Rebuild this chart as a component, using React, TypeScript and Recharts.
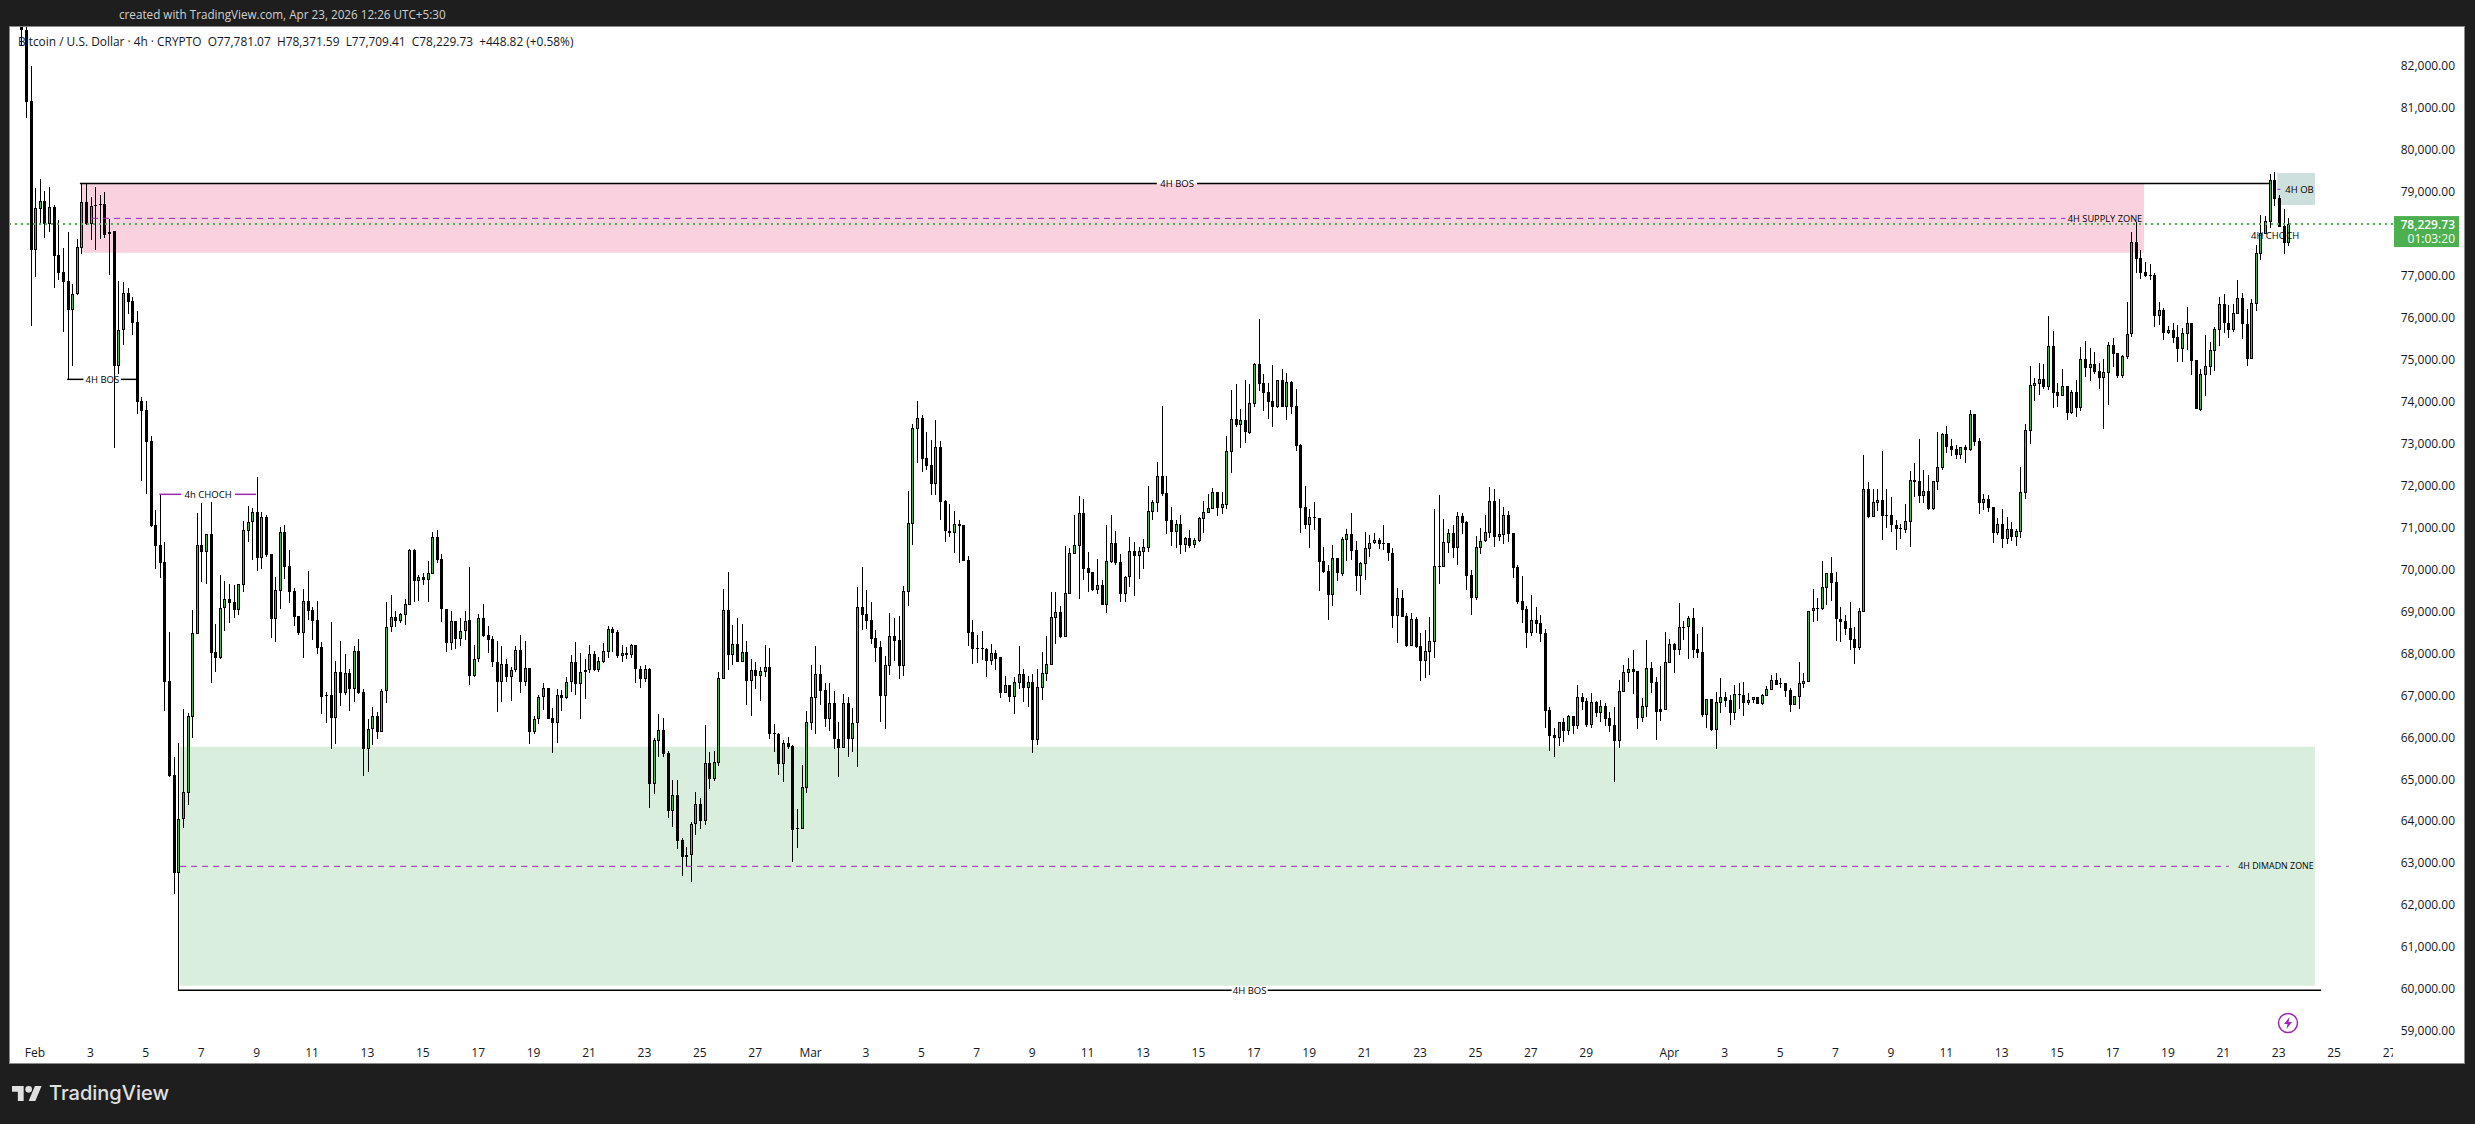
import React from 'react';
import { Bar, ComposedChart, ReferenceArea, ReferenceDot, ReferenceLine, XAxis, YAxis } from 'recharts';

// [open, high, low, close], one row per 4h candle
const febCandles = [
  [83300,83500,82467,82864],[82864,83400,80766,81148],[81164,81990,75792,77619],[77619,79082,76968,78605],
  [78597,79296,78223,78780],[78780,79018,77905,78239],[78239,79113,78049,78629],[78637,78676,76713,77476],
  [77484,78319,76888,77063],[77087,77659,75657,76849],[76864,78041,74528,76189],[76189,76809,74854,76555],
  [76555,77874,76531,77683],[77667,79209,77524,78748],[78748,79193,78200,78239],[78239,78875,77858,78652],
  [78676,79113,77604,78660],[78700,78915,77882,78690],[78700,78994,77905,77969],[77985,78358,77007,78048],
  [78064,78064,72899,74854],[74854,76872,74663,75696],[75696,76848,75354,76586],[76586,76706,76094,76380],
  [76388,76491,75577,75879],[75895,76157,73710,73996],[74012,74100,72113,73782],[73798,74012,71795,73043],
  [73059,73178,71016,71032],[71056,71414,70007,70563],[70579,71787,69800,70158],[70174,70643,66622,67321],
  [67337,68497,65056,65072],[65088,65517,62250,62751],[62751,65851,59963,64039],[64039,66661,63840,64683],
  [64675,66566,64381,66502],[66471,69030,65970,68473],[68457,71334,68457,70579],[70579,71573,69697,70420],
  [70420,70834,69649,70834],[70834,71604,67297,68012],[68028,68696,67551,67893],[67893,69856,67853,69069],
  [69069,69721,68537,69284],[69284,69642,68728,69205],[69228,69626,68847,69030],[69030,69649,68911,69649],
  [69634,71151,69459,70937],[70921,71509,70651,71120],[71120,71453,70222,71358],[71358,72193,69959,70277],
  [70277,71358,70007,71247],[71247,71287,70285,70349],[70365,70365,68362,68823],[68823,69808,68267,69506],
  [69491,71000,69061,70881],[70881,71056,69769,70063],[70079,70460,69204,69467],[69483,69546,68648,68871],
  [68887,68887,68433,68473],[68489,69522,67885,69244],[69244,69951,68791,69014],[69030,69093,68314,68775],
  [68791,69244,67981,68131],[68155,68259,66542,66963],[67003,67067,66344,66995],[67003,68736,65724,66463],
  [66463,67814,65835,67543],[67543,68290,66741,67043],[67043,67973,67003,67520],[67520,67615,66630,67154],
  [67154,68179,66844,68052],[68052,68330,67019,67043],[67075,67138,65080,65708],[65708,66423,65175,66185],
  [66185,66709,65811,66502],[66502,66598,65954,66129],[66129,67138,66129,67091],[67091,69220,66820,68616],
  [68616,69387,68513,68871],[68871,69006,68632,68775],[68775,68950,68728,68934],[68918,69284,68672,69173],
  [69157,70476,69157,70460],[70460,70476,69220,69729],[69729,69856,69252,69816],[69816,69920,69634,69753],
  [69753,70198,69220,69912],[69896,70889,69896,70762],[70762,70937,70158,70222],[70238,70365,68751,69046],
  [69046,69046,68036,68235],[68235,69014,68076,68759],[68759,68775,68108,68346],[68346,68831,68171,68521],
  [68521,69006,68314,68775],[68791,70055,67242,67464],[67464,68195,67440,67853],[67853,68934,67798,68831],
  [68831,69173,68394,68410],[68426,68648,68012,68322],[68330,68410,67663,67798],[67798,68290,66598,67321],
  [67321,68171,66836,67734],[67734,67861,67321,67440],[67440,67663,66868,67591],[67591,68171,67559,68068],
  [68068,68433,67059,67321],[67321,68290,67218,67639],[67639,67639,65835,66129],[66129,66502,66073,66423],
  [66423,67003,66312,66948],[66948,67297,66646,67162],[67162,67162,66439,66439],[66447,66685,65628,66344],
  [66344,67138,65867,66995],[66995,67122,66630,66940],[66940,67424,66916,67305],[67305,67957,67082,67782],
  [67782,68267,67003,67257],[67257,67997,66431,67543],[67543,67853,66908,67591],[67591,68187,67520,67973],
  [67973,68060,67575,67599],[67599,67917,67551,67806],[67798,68251,67758,68044],[68036,68648,67893,68569],
  [68569,68616,68036,68489],[68505,68553,67893,67933],[67941,68187,67790,67997],[67997,68155,67869,67965],
  [67965,68219,67893,68187],[68187,68187,67297,67631],[67631,67694,67170,67393],[67393,67718,67313,67615],
  [67615,67639,64309,64881],[64881,65978,64643,65930],[65914,66542,65525,66169],[66169,66455,65525,65596],
  [65612,65668,64079,64245],[64245,64977,63864,64611],[64611,64977,63332,63530],[63538,63602,62688,63149],
  [63181,63387,62910,63149],[63181,63975,62553,63928],[63920,64691,63673,64397],[64397,64540,63816,64007],
  [64007,66288,63904,65374],[65374,65644,64770,65009],[65009,65668,64961,65398],[65390,67543,65310,67401],
  [67393,69530,67393,69030],[69030,69936,67599,67965],[67965,68672,67726,68211],[68211,68839,67798,67798],
  [67798,68696,67798,68020],[68020,68290,66773,67345],[67345,67853,66502,67591],[67591,67798,67146,67464],
  [67464,67679,66860,67568],[67560,68187,67440,67663],[67663,68124,65954,66081],[66097,66312,65644,66089],
  [66073,66105,65096,65366],[65366,65930,64929,65851],[65851,66002,65724,65771],[65787,65811,63030,63793],
  [63825,64293,63355,63817],[63817,65326,63817,64810],[64794,66622,64675,66352],
];

const marCandles = [
  [66344,67718,66169,66948],[66940,68171,66073,67496],[67496,67718,66765,67106],[67122,67297,66248,66439],
  [66439,67281,66153,66804],[66804,67098,65724,65946],[65946,66359,65056,65748],[65748,67027,65748,66804],
  [66804,66955,65533,65962],[65962,66685,65652,66328],[66328,69578,65295,69093],[69093,70055,68553,68918],
  [68926,69506,68577,68775],[68791,69220,68227,68346],[68354,68553,67790,68131],[68139,68290,66367,66987],
  [66987,67933,66200,67710],[67702,68958,67480,68410],[68410,68839,67814,68298],[68306,68887,67393,67702],
  [67702,69602,67464,69475],[69467,71867,69125,71096],[71088,73464,70587,73361],[73353,74012,72542,73599],
  [73599,73679,72328,72638],[72646,73273,72367,72471],[72479,73083,71771,72042],[72042,73559,71771,72908],
  [72908,73059,71183,71612],[71620,71652,70651,70921],[70913,71557,70778,70873],[70873,71390,70396,71072],
  [71072,71175,70158,71040],[71048,71048,70206,70206],[70214,70317,68171,68489],[68497,68791,67750,68108],
  [68116,68433,67774,68108],[68116,68529,67838,68108],[68092,68124,67440,67822],[67822,68219,67710,67997],
  [67997,68076,67599,67853],[67900,67916,66939,67042],[67058,67455,67042,67233],[67233,67233,66835,66963],
  [66963,67423,66549,67304],[67296,68170,67153,67495],[67495,67614,66835,67177],[67177,67455,66724,67304],
  [67304,67495,65627,65929],[65929,67630,65818,67185],[67177,68027,66883,67519],[67511,68409,67344,67733],
  [67725,69458,67725,68862],[68846,69458,68218,68973],[68973,69124,68353,68377],[68385,70555,68385,69426],
  [69418,70515,69418,70380],[70372,71294,70372,70571],[70563,71747,69299,71333],[71333,71675,69744,70014],
  [70022,70412,69458,69911],[69935,69935,69482,69505],[69505,70245,69410,69617],[69617,69744,69148,69148],
  [69148,71055,68965,70189],[70173,71294,70157,70618],[70618,70912,70102,70141],[70165,70356,69219,69418],
  [69418,69839,69219,69823],[69807,70761,69585,70427],[70427,70650,69370,70324],[70324,70523,69768,70427],
  [70419,70722,70006,70523],[70515,71985,70404,71381],[71373,71651,71174,71596],[71588,72549,71365,72215],
  [72215,73884,71747,71794],[71810,72223,70841,71158],[71166,71484,70555,70896],[70896,71174,70507,71071],
  [71071,71294,70364,70586],[70586,70761,70404,70737],[70737,70936,70507,70563],[70586,70737,70515,70690],
  [70682,71238,70650,71222],[71206,71627,70873,71357],[71349,71786,71349,71452],[71445,71937,71445,71834],
  [71834,71834,71278,71468],[71468,71834,71325,71548],[71540,73177,71437,72811],[72803,74274,72295,73574],
  [73574,74417,73400,73447],[73447,73821,72891,73551],[73551,74512,73010,73265],[73257,74417,73225,73956],
  [73948,74910,73868,74894],[74894,75958,74258,74425],[74433,74647,73773,74210],[74218,74433,73590,73996],
  [74004,74862,73400,73876],[73868,74504,73845,74504],[74504,74766,73876,73876],[73876,74671,73558,74457],
  [74465,74488,73709,73876],[73884,74298,72827,72947],[72962,72978,70873,71468],[71476,71985,70960,71063],
  [71063,71429,70515,71238],[71238,71604,70936,71230],[71214,71214,69490,70181],[70189,70523,69903,69935],
  [69951,70094,68790,69394],[69394,70579,69132,70261],[70261,70261,69728,69903],[69895,70777,69839,70713],
  [70705,70960,70205,70833],[70833,71333,70221,70443],[70451,70666,69490,69847],[69847,70165,69386,70141],
  [70133,70888,69744,70499],[70491,70817,70284,70634],[70634,70865,70594,70690],[70690,70737,70491,70610],
  [70618,71055,70459,70610],[70618,70618,70205,70380],[70380,70507,68608,68894],[68894,69545,68234,69307],
  [69307,69505,68870,68870],[68878,68965,68155,68170],[68178,68965,68178,68806],[68806,68854,68131,68155],
  [68170,68488,67344,67821],[67821,68552,67416,68043],[68035,68854,67487,68282],[68274,71437,67884,70070],
  [70070,71770,69649,70062],[70062,71198,70062,70642],[70634,70960,70388,70857],[70857,71055,70268,70515],
  [70515,71365,70102,71270],[71270,71341,70849,71111],[71127,71159,69505,69847],[69855,69982,68917,69323],
  [69323,70793,69267,70523],[70515,70984,70364,70674],[70666,71294,70650,70880],[70873,71961,70745,71619],
  [71619,71913,70531,70777],[70777,71675,70682,70833],[70825,71484,70602,71286],[71286,71389,70650,70849],
  [70857,70857,69791,70038],[70054,70102,69172,69212],[69236,69839,68719,69037],[69045,69124,68123,68488],
  [68488,69386,68409,68782],[68782,69100,68472,68703],[68711,68909,68266,68464],[68472,68576,66215,66629],
  [66645,66716,65675,66025],[66049,66215,65532,65985],[65985,66350,65794,66350],[66350,66454,65882,66152],
  [66152,66525,66049,66502],[66502,66502,66081,66271],[66271,67241,66192,66955],[66955,67050,66645,66843],
  [66859,66939,66239,66287],[66287,67050,66215,66835],[66835,66859,66470,66581],[66581,66883,66359,66740],
  [66740,66811,66263,66430],[66446,66597,66120,66271],[66287,66716,64928,65913],[65913,67360,65746,67090],
  [67082,67718,67082,67543],[67535,67884,67320,67614],[67614,68075,67034,67558],[67566,67566,66192,66462],
  [66462,66931,66359,66732],[66724,68313,66478,67638],[67638,67789,67050,67296],[67304,67431,65929,66605],
  [66661,67694,66382,66605],[66653,68504,66653,67781],
];

const aprCandles = [
  [67773,68337,67773,68210],[68210,68234,67527,68083],[68083,69188,67956,68616],[68616,68759,68313,68608],
  [68616,68878,67860,68830],[68830,69076,67884,68083],[68091,68456,67884,68012],[68020,68623,66486,66533],
  [66533,66899,66215,66899],[66899,66899,66144,66168],[66168,67074,65723,66827],[66820,67408,66581,66947],
  [66947,67066,66724,66867],[66875,67002,66287,66581],[66581,67241,66406,67018],[67018,67288,66669,67010],
  [67002,67312,66502,66820],[66820,67050,66764,66875],[66875,66955,66812,66947],[66947,66947,66796,66796],
  [66796,67018,66772,66994],[66986,67209,66986,67137],[67129,67471,67129,67352],[67352,67519,67241,67248],
  [67280,67400,67161,67272],[67280,67280,66963,67106],[67114,67161,66605,66772],[66772,66970,66756,66970],
  [66963,67781,66676,67280],[67273,67519,67162,67329],[67321,69000,67321,69000],[69000,69530,68751,69069],
  [69069,69307,68775,69061],[69061,70197,69029,69570],[69562,69904,69149,69904],[69904,70293,69244,69681],
  [69689,69935,68298,68807],[68807,69101,68274,68751],[68759,68902,68441,68584],[68592,69220,68084,68322],
  [68330,68624,67750,68131],[68123,69069,68084,69000],[68990,72725,68990,71906],[71906,72081,71223,71247],
  [71255,71914,71255,71596],[71588,71914,71397,71644],[71644,72820,70698,71278],[71294,71914,70984,71286],
  [71286,71723,70889,71048],[71048,71175,70460,70968],[70976,71080,70722,70968],[70944,71556,70865,71143],
  [71135,72335,70531,72121],[72121,72534,71723,72081],[72097,73098,71580,71755],[71755,72367,71580,71858],
  [71858,72248,71413,71437],[71437,72097,71413,72097],[72089,73273,71890,72431],[72423,73241,72367,73217],
  [73217,73416,72772,72923],[72931,73098,72701,72844],[72860,72963,72629,72733],[72733,72915,72629,72907],
  [72907,72955,72534,72844],[72844,73798,72820,73694],[73694,73694,72939,73043],[73051,73122,71326,71588],
  [71588,71795,71421,71668],[71668,71771,71366,71469],[71485,71493,70627,70873],[70873,71215,70817,71072],
  [71072,71437,70507,70730],[70730,71247,70603,70953],[70953,71127,70674,70770],[70770,70953,70555,70905],
  [70897,72439,70746,71835],[71827,73456,71676,73313],[73305,74847,72987,74386],[74378,74552,74012,74433],
  [74425,74910,74155,74529],[74529,74886,74298,74346],[74338,76039,74274,75315],[75315,75673,73845,74211],
  [74219,74433,73869,74139],[74139,74775,74139,74362],[74362,74362,73559,73734],[73726,74274,73702,74219],
  [74219,74505,73631,73853],[73853,75299,73774,75005],[75005,75435,74576,74799],[74799,75268,74489,74886],
  [74886,75172,74656,74703],[74719,74910,74306,74560],[74560,75005,73352,74696],[74688,75411,73917,75339],
  [75339,75514,74823,75141],[75149,75149,74560,74608],[74600,75101,74560,75077],[75069,76372,75013,75601],
  [75601,78049,75546,77795],[77795,78287,77056,77405],[77413,77612,76920,77072],[77087,77318,76968,76992],
  [77024,77270,76897,77016],[77008,77056,75784,76046],[76046,76364,75824,76174],[76181,76221,75466,75641],
  [75633,75808,75609,75697],[75697,75864,75387,75522],[75530,75824,74950,75260],[75260,75744,74950,75625],
  [75617,76245,75228,75864],[75864,75864,74632,74974],[74990,74990,73813,73813],[73805,74775,73781,74648],
  [74640,75578,74131,74838],[74830,75410,74632,75220],[75212,75784,74735,75720],[75713,76491,75331,76317],
  [76317,76555,75633,75864],[75872,76301,75522,75705],[75705,76317,75649,76102],[76094,76897,76094,76460],
  [76460,76579,75498,75840],[75848,76205,74846,75021],[75013,76436,75013,76340],[76332,77723,76158,77532],
  [77524,78446,77381,78009],[78001,78422,78001,78295],[78287,79416,78144,79281],[79281,79464,78669,78836],
  [78844,78923,78168,78168],[78184,78589,77516,77781],[77781.07,78371.59,77709.41,78229.73],
];

const lastPrice = 78229.73;
const priceTicks = [59000,60000,61000,62000,63000,64000,65000,66000,67000,68000,69000,70000,71000,72000,73000,74000,75000,76000,77000,lastPrice,79000,80000,81000,82000];
const xTickDays = [1,3,5,7,9,11,13,15,17,19,21,23,25,27,29,31,33,35,37,39,41,43,45,47,49,51,53,55,57,60,62,64,66,68,70,72,74,76,78,80,82,84,86];
const xTickLabels = ['Feb','3','5','7','9','11','13','15','17','19','21','23','25','27','Mar','3','5','7','9','11','13','15','17','19','21','23','25','27','29','Apr','3','5','7','9','11','13','15','17','19','21','23','25','27'];

const FONT = '"Open Sans", sans-serif';
const INK = '#131722';
const GREEN = '#4caf50';
const PURPLE = '#9c27b0';

const candles = [...febCandles, ...marCandles, ...aprCandles].map((c, i) => ({
  day: 0.5 + i / 6,
  open: c[0],
  high: c[1],
  low: c[2],
  close: c[3],
  range: [c[2], c[1]],
}));

const Candle = (props: any) => {
  const { x, y, width, height, payload } = props;
  const { open, high, low, close } = payload;
  const perUnit = height / (high - low);
  const cx = Math.round(x + width / 2);
  const top = y + (high - Math.max(open, close)) * perUnit;
  const bodyH = Math.max(Math.abs(open - close) * perUnit, 1);
  return (
    <g shapeRendering="crispEdges">
      <rect x={cx} y={y} width={1} height={height} fill="#000" />
      <rect x={cx - 1} y={top} width={3} height={bodyH} fill="#000" />
      {close > open && bodyH > 2 && <rect x={cx} y={top + 1} width={1} height={bodyH - 2} fill={GREEN} />}
    </g>
  );
};

const PriceTick = ({ x, y, payload }: any) => {
  if (payload.value === lastPrice) {
    return (
      <g fontFamily={FONT} fontSize={12} fill="#fff" textAnchor="end">
        <rect x={x - 7} y={y - 8} width={65} height={31} fill={GREEN} />
        <text x={x + 54} y={y} dominantBaseline="central" fontWeight={600}>78,229.73</text>
        <text x={x + 54} y={y + 14} dominantBaseline="central">01:03:20</text>
      </g>
    );
  }
  return (
    <text x={x + 54} y={y} textAnchor="end" dominantBaseline="central" fontFamily={FONT} fontSize={12} fill={INK}>
      {payload.value.toLocaleString('en-US', { minimumFractionDigits: 2 })}
    </text>
  );
};

const DayTick = ({ x, y, index }: any) => (
  <text x={x} y={y + 13} textAnchor="middle" dominantBaseline="central" fontFamily={FONT} fontSize={12} fill={INK} clipPath="url(#timeClip)">
    {xTickLabels[index]}
  </text>
);

const note = (value: string, fontSize = 9.5) => ({ value, position: 'center' as const, fontSize, fill: '#000', fontFamily: FONT });

export default function App() {
  return (
    <div style={{ position: 'absolute', left: 0, top: 0, width: 2475, height: 1124, background: '#1e1e1e', overflow: 'hidden' }}>
      <div style={{ position: 'absolute', left: 9, top: 26, width: 2454, height: 1036, background: '#fff', border: '1px solid #8a8a8a' }} />
      <div style={{ position: 'absolute', left: 119, top: 6, fontFamily: FONT, fontSize: 11.7, color: '#d0d0d0', whiteSpace: 'nowrap' }}>
        created with TradingView.com, Apr 23, 2026 12:26 UTC+5:30
      </div>
      <div style={{ position: 'absolute', left: 0, top: 0 }}>
        <ComposedChart width={2475} height={1124} data={candles} margin={{ top: 27, right: 10, bottom: 0, left: 10 }}>
          <defs>
            <clipPath id="timeClip"><rect x={0} y={0} width={2393} height={1124} /></clipPath>
          </defs>
          <XAxis dataKey="day" type="number" scale="linear" domain={[0.0975, 86.126]} allowDataOverflow ticks={xTickDays} interval={0} height={87} axisLine={false} tickLine={false} tickSize={0} tick={<DayTick />} />
          <YAxis orientation="right" type="number" domain={[58850, 82928]} allowDataOverflow ticks={priceTicks} interval={0} width={72} axisLine={false} tickLine={false} tickSize={0} tickMargin={8} tick={<PriceTick />} />

          <ReferenceArea x1={2.66} x2={77.14} y1={77547} y2={79200} fill="#f9d1df" fillOpacity={1} stroke="none" />
          <ReferenceArea x1={6.22} x2={83.31} y1={60073} y2={65771} fill="#daeedd" fillOpacity={1} stroke="none" />
          <ReferenceArea x1={81.95} x2={83.31} y1={78685} y2={79448} fill="#cde0dd" fillOpacity={1} stroke="none" />

          <Bar dataKey="range" barSize={3} isAnimationActive={false} shape={<Candle />} />

          <ReferenceLine y={lastPrice} stroke={GREEN} strokeWidth={2} strokeDasharray="2 4" shapeRendering="crispEdges" />

          <ReferenceLine segment={[{ x: 2.62, y: 79200 }, { x: 41.5, y: 79200 }]} stroke="#000" strokeWidth={1.5} />
          <ReferenceLine segment={[{ x: 42.95, y: 79200 }, { x: 81.7, y: 79200 }]} stroke="#000" strokeWidth={1.5} />
          <ReferenceDot x={42.23} y={79200} r={0} stroke="none" label={note('4H BOS')} />

          <ReferenceLine segment={[{ x: 6.16, y: 59963 }, { x: 44.2, y: 59963 }]} stroke="#000" strokeWidth={1.5} />
          <ReferenceLine segment={[{ x: 45.5, y: 59963 }, { x: 83.53, y: 59963 }]} stroke="#000" strokeWidth={1.5} />
          <ReferenceDot x={44.85} y={59963} r={0} stroke="none" label={note('4H BOS')} />

          <ReferenceLine segment={[{ x: 2.16, y: 74528 }, { x: 2.75, y: 74528 }]} stroke="#000" strokeWidth={1.5} />
          <ReferenceLine segment={[{ x: 4.1, y: 74528 }, { x: 4.65, y: 74528 }]} stroke="#000" strokeWidth={1.5} />
          <ReferenceDot x={3.43} y={74528} r={0} stroke="none" label={note('4H BOS')} />

          <ReferenceLine segment={[{ x: 5.49, y: 71787 }, { x: 6.27, y: 71787 }]} stroke={PURPLE} strokeWidth={1.5} />
          <ReferenceLine segment={[{ x: 8.22, y: 71787 }, { x: 8.98, y: 71787 }]} stroke={PURPLE} strokeWidth={1.5} />
          <ReferenceDot x={7.25} y={71787} r={0} stroke="none" label={note('4h CHOCH')} />

          <ReferenceLine segment={[{ x: 3.06, y: 78366 }, { x: 74.3, y: 78366 }]} stroke={PURPLE} strokeDasharray="6 5" />
          <ReferenceDot x={75.73} y={78366} r={0} stroke="none" label={note('4H SUPPLY ZONE', 9.25)} />

          <ReferenceLine segment={[{ x: 6.24, y: 62919 }, { x: 80.2, y: 62919 }]} stroke={PURPLE} strokeDasharray="6 5" />
          <ReferenceDot x={81.9} y={62919} r={0} stroke="none" label={note('4H DIMADN ZONE', 8.9)} />

          <ReferenceLine segment={[{ x: 81.95, y: 79058 }, { x: 82.06, y: 79058 }]} stroke={PURPLE} />
          <ReferenceDot x={82.75} y={79058} r={0} stroke="none" label={note('4H OB')} />
          <ReferenceDot x={81.87} y={77954} r={0} stroke="none" label={note('4H CHOCH')} />
        </ComposedChart>
      </div>
      <div style={{ position: 'absolute', left: 18, top: 33, fontFamily: FONT, fontSize: 11.9, color: INK, whiteSpace: 'pre' }}>
        {'Bitcoin / U.S. Dollar · 4h · CRYPTO  O77,781.07  H78,371.59  L77,709.41  C78,229.73  +448.82 (+0.58%)'}
      </div>
      <svg style={{ position: 'absolute', left: 2277, top: 1012 }} width={22} height={22} viewBox="0 0 22 22">
        <circle cx={11} cy={11} r={9.5} fill="none" stroke={PURPLE} strokeWidth={1.5} />
        <path d="M12.5 5 L7 12 H10.5 L9.5 17 L15 10 H11.5 Z" fill={PURPLE} />
      </svg>
      <svg style={{ position: 'absolute', left: 12, top: 1086 }} width={30} height={15} viewBox="0 4 36 18" fill="#e0e0e0">
        <path d="M14 22H7V11H0V4h14v18zM28 22h-8l7.5-18h8L28 22z" />
        <circle cx={20} cy={8} r={4} />
      </svg>
      <div style={{ position: 'absolute', left: 49, top: 1081, fontFamily: 'Inter, sans-serif', fontWeight: 500, fontSize: 20, color: '#e0e0e0', whiteSpace: 'nowrap' }}>
        TradingView
      </div>
    </div>
  );
}
